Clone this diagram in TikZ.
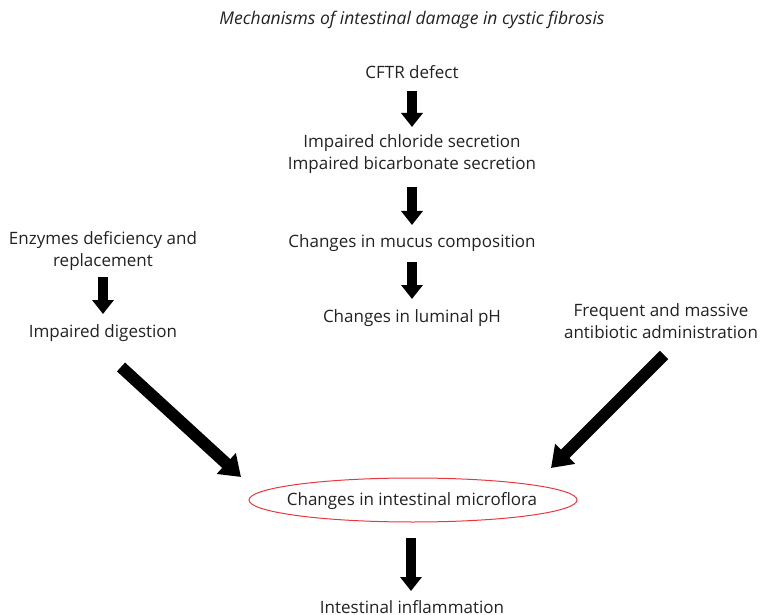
\documentclass[tikz,border=0pt]{standalone}
\usepackage{fontspec}
\setmainfont{Open Sans}
\usetikzlibrary{arrows.meta,shapes.geometric}
\definecolor{txt}{HTML}{222222}
\definecolor{ellred}{HTML}{E8383D}
\tikzset{
  lbl/.style={text=txt, font=\fontsize{17}{22}\selectfont, inner sep=0pt, align=center},
  ring/.style={draw=ellred, line width=1pt},
  vbar/.style={line width=10pt, -{Triangle[width=21pt,length=14pt]}},
  dbar/.style={line width=12pt, -{Triangle[width=27pt,length=20pt]}},
}
\begin{document}
\begin{tikzpicture}[x=1pt,y=-1pt]
\useasboundingbox (0,0) rectangle (761,615);
\node[lbl, font=\fontsize{17.5}{22}\selectfont\itshape] (title) at (412,20) {Mechanisms of intestinal damage in cystic fibrosis};
\node[lbl] (cftr) at (412,72) {CFTR defect};
\node[lbl] (impaired) at (412,154) {Impaired chloride secretion\\Impaired bicarbonate secretion};
\node[lbl] (mucus) at (412,243) {Changes in mucus composition};
\node[lbl] (ph) at (412,318) {Changes in luminal pH};
\node[lbl] (enz) at (103,251) {Enzymes deficiency and\\replacement};
\node[lbl] (dig) at (103,333) {Impaired digestion};
\node[lbl] (anti) at (661,321) {Frequent and massive\\antibiotic administration};
\node[lbl] (micro) at (412,501) {Changes in intestinal microflora};
\draw[ring] (413,500) ellipse [x radius=164pt, y radius=22pt];
\node[lbl] (infl) at (412,607) {Intestinal inflammation};
\coordinate (a1s) at (412,91); \coordinate (a1e) at (412,127);
\coordinate (a2s) at (412,187); \coordinate (a2e) at (412,225);
\coordinate (a3s) at (412,262); \coordinate (a3e) at (412,299);
\coordinate (a4s) at (103,277); \coordinate (a4e) at (103,314);
\coordinate (a5s) at (411,538); \coordinate (a5e) at (411,591);
\coordinate (a6s) at (121,367); \coordinate (a6e) at (241,477);
\coordinate (a7s) at (664,355); \coordinate (a7e) at (551,468);
\draw[vbar] (a1s) -- (a1e);
\draw[vbar] (a2s) -- (a2e);
\draw[vbar] (a3s) -- (a3e);
\draw[vbar] (a4s) -- (a4e);
\draw[vbar] (a5s) -- (a5e);
\draw[dbar] (a6s) -- (a6e);
\draw[dbar] (a7s) -- (a7e);
\end{tikzpicture}
\end{document}
